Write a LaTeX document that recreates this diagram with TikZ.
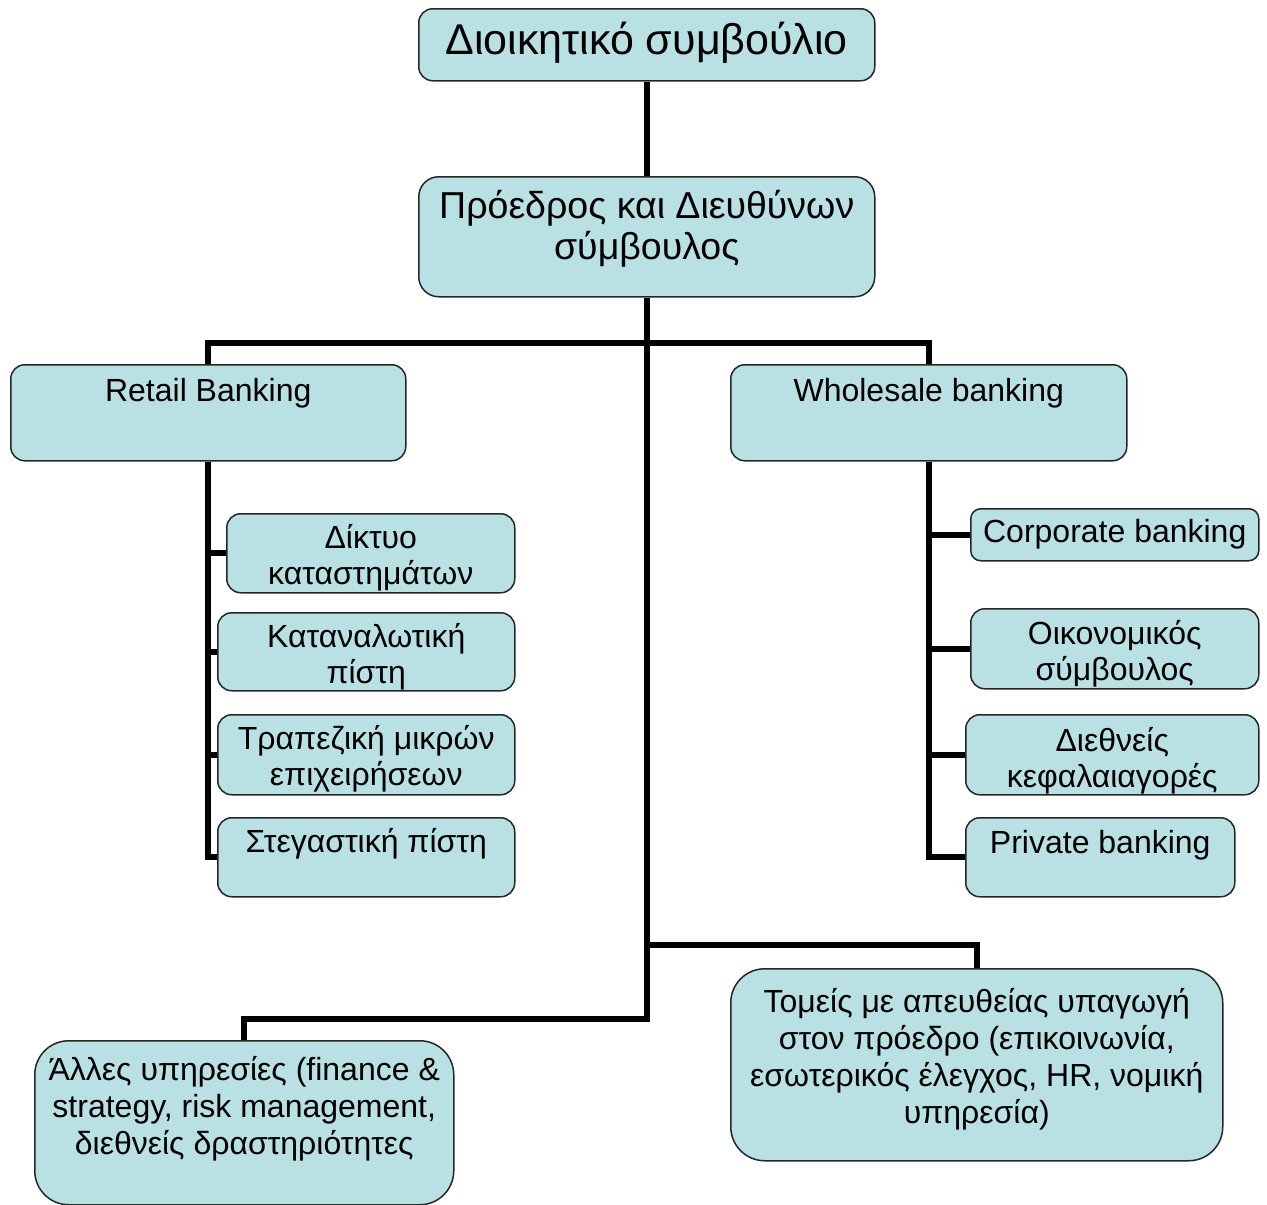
\documentclass[tikz,border=0pt]{standalone}
\usepackage{fontspec}
\setmainfont{Liberation Sans}
\definecolor{boxfill}{RGB}{185,224,226}
\tikzset{
  box/.style={draw=black!85, line width=1.5pt, fill=boxfill, rounded corners=14pt,
    inner sep=0pt, anchor=north west},
  bigbox/.style={box, rounded corners=34pt},
  txt/.style={inner sep=0pt, align=center, anchor=base, text=black},
  f32/.style={font=\fontsize{32}{36.5}\selectfont},
  link/.style={line width=6pt, draw=black}
}
\begin{document}
\begin{tikzpicture}[x=1pt,y=-1pt]
\useasboundingbox (0,0) rectangle (1267,1205);
% boxes
\node[box, minimum width=456pt, minimum height=72pt] (board) at (418,8) {};
\node[box, rounded corners=20pt, minimum width=456pt, minimum height=120pt] (ceo) at (418,176) {};
\node[box, minimum width=395pt, minimum height=96pt] (retail) at (10,364) {};
\node[box, minimum width=396pt, minimum height=96pt] (whole) at (730,364) {};
\node[box, minimum width=288pt, minimum height=79pt] (diktyo) at (226,513) {};
\node[box, minimum width=297pt, minimum height=78pt] (katan) at (217,612) {};
\node[box, minimum width=297pt, minimum height=80pt] (trap) at (217,714) {};
\node[box, minimum width=297pt, minimum height=79pt] (steg) at (217,817) {};
\node[box, rounded corners=10pt, minimum width=288pt, minimum height=52pt] (corp) at (970,508) {};
\node[box, minimum width=288pt, minimum height=80pt] (oikon) at (970,608) {};
\node[box, minimum width=293pt, minimum height=80pt] (dieth) at (965,714) {};
\node[box, minimum width=269pt, minimum height=79pt] (priv) at (965,817) {};
\node[bigbox, minimum width=419pt, minimum height=164pt] (other) at (34,1040) {};
\node[bigbox, minimum width=492pt, minimum height=192pt] (direct) at (730,968) {};
% texts (anchor base = baseline of the last line)
\node[txt, font=\fontsize{43}{49}\selectfont] at ([yshift=-46pt]board.north) {Διοικητικό συμβούλιο};
\node[txt, font=\fontsize{37.5}{41}\selectfont] at ([yshift=-83pt]ceo.north) {Πρόεδρος και Διευθύνων\\σύμβουλος};
\node[txt, f32] at ([yshift=-37pt]retail.north) {Retail Banking};
\node[txt, f32] at ([yshift=-37pt]whole.north) {Wholesale banking};
\node[txt, f32] at ([yshift=-71.5pt]diktyo.north) {Δίκτυο\\καταστημάτων};
\node[txt, f32] at ([yshift=-71.5pt]katan.north) {Καταναλωτική\\πίστη};
\node[txt, f32] at ([yshift=-71.5pt]trap.north) {Τραπεζική μικρών\\επιχειρήσεων};
\node[txt, f32] at ([yshift=-35pt]steg.north) {Στεγαστική πίστη};
\node[txt, f32] at ([yshift=-34pt]corp.north) {Corporate banking};
\node[txt, f32] at ([yshift=-72.5pt]oikon.north) {Οικονομικός\\σύμβουλος};
\node[txt, f32] at ([yshift=-73.5pt]dieth.north) {Διεθνείς\\κεφαλαιαγορές};
\node[txt, f32] at ([yshift=-36pt]priv.north) {Private banking};
\node[txt, font=\fontsize{32}{37}\selectfont] at ([yshift=-114pt]other.north) {Άλλες υπηρεσίες (finance \&\\strategy, risk management,\\διεθνείς δραστηριότητες};
\node[txt, font=\fontsize{32}{37}\selectfont] at ([yshift=-155pt]direct.north) {Τομείς με απευθείας υπαγωγή\\στον πρόεδρο (επικοινωνία,\\εσωτερικός έλεγχος, HR, νομική\\υπηρεσία)};
% connectors
\draw[link] (board.south) -- (ceo.north);
\draw[link] (ceo.south) -- ++(0,45) -| (retail.north);
\draw[link] (ceo.south) -- ++(0,45) -| (whole.north);
\draw[link] (ceo.south) -- ++(0,647) -| (direct.north);
\draw[link] (ceo.south) -- ++(0,721) -| (other.north);
\draw[link] (retail.south) |- (diktyo.west);
\draw[link] (retail.south) |- (katan.west);
\draw[link] (retail.south) |- (trap.west);
\draw[link] (retail.south) |- (steg.west);
\draw[link] (whole.south) |- (corp.west);
\draw[link] (whole.south) |- (oikon.west);
\draw[link] (whole.south) |- (dieth.west);
\draw[link] (whole.south) |- (priv.west);
\end{tikzpicture}
\end{document}
